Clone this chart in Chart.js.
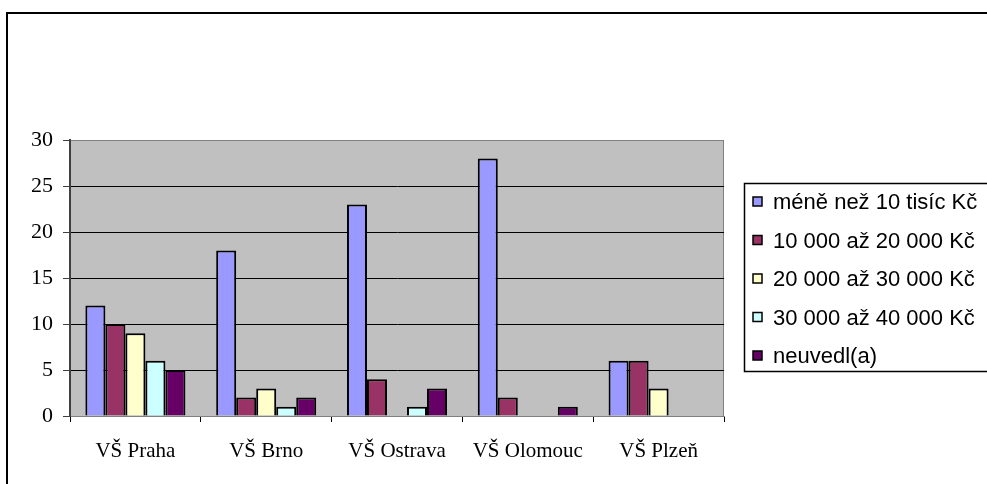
<!DOCTYPE html>
<html>
<head>
<meta charset="utf-8">
<script src="https://cdn.jsdelivr.net/npm/chart.js@4.4.0/dist/chart.umd.min.js"></script>
<style>
  html, body { margin: 0; padding: 0; background: #fff; overflow: hidden; }
  #wrap { width: 987px; height: 484px; }
</style>
</head>
<body>
<div id="wrap"><canvas id="c" width="987" height="484"></canvas></div>
<script>
// Výše příjmu podle vysoké školy
const categories = ['VŠ Praha', 'VŠ Brno', 'VŠ Ostrava', 'VŠ Olomouc', 'VŠ Plzeň'];
const seriesLabels = ['méně než 10 tisíc Kč', '10 000 až 20 000 Kč', '20 000 až 30 000 Kč', '30 000 až 40 000 Kč', 'neuvedl(a)'];
const lessThan10k = [12, 18, 23, 28, 6];
const from10to20k = [10, 2, 4, 2, 6];
const from20to30k = [9, 3, 0, 0, 3];
const from30to40k = [6, 1, 1, 0, 0];
const notStated = [5, 2, 3, 1, 0];
const yTicks = [0, 5, 10, 15, 20, 25, 30];

const colors = ['#9999FF', '#993366', '#FFFFCC', '#CCFFFF', '#660066'];
const values = [lessThan10k, from10to20k, from20to30k, from30to40k, notStated];

// plot background, outer frame and boxed legend (Excel look)
const excelLook = {
  id: 'excelLook',
  beforeDraw(chart) {
    const { ctx, chartArea: a } = chart;
    ctx.save();
    ctx.fillStyle = '#fff';
    ctx.fillRect(0, 0, chart.width, chart.height);
    ctx.fillStyle = '#C0C0C0';
    ctx.fillRect(a.left, a.top, a.right - a.left, a.bottom - a.top);
    ctx.strokeStyle = '#808080';
    ctx.lineWidth = 1;
    ctx.strokeRect(a.left + 0.5, a.top + 0.5, a.right - a.left - 1, a.bottom - a.top);
    ctx.restore();
  },
  afterDraw(chart) {
    const { ctx } = chart;
    ctx.save();
    ctx.strokeStyle = '#000';
    ctx.lineWidth = 2;
    ctx.strokeRect(7, 13, 2000, 2000);
    // legend
    ctx.lineWidth = 1.5;
    ctx.strokeRect(744.5, 183.5, 400, 188);
    ctx.font = '22px "Liberation Sans", Arial, sans-serif';
    ctx.textBaseline = 'middle';
    chart.data.datasets.forEach((ds, i) => {
      const cy = 202 + i * 38.5;
      ctx.fillStyle = ds.backgroundColor;
      ctx.fillRect(753, cy - 5, 9, 9);
      ctx.lineWidth = 1.5;
      ctx.strokeStyle = '#000';
      ctx.strokeRect(753, cy - 5, 9, 9);
      ctx.fillStyle = '#000';
      ctx.fillText(ds.label, 773, cy + 1);
    });
    ctx.restore();
  }
};

new Chart(document.getElementById('c'), {
  type: 'bar',
  data: {
    labels: categories,
    datasets: seriesLabels.map((label, i) => ({
      label,
      data: values[i],
      backgroundColor: colors[i],
      borderColor: '#000',
      borderWidth: 2,
      borderSkipped: 'bottom',
      barPercentage: 1,
      categoryPercentage: 0.765,
    })),
  },
  options: {
    responsive: false,
    animation: false,
    layout: { padding: { left: 0, top: 140, right: 263, bottom: 0 } },
    plugins: { legend: { display: false }, tooltip: { enabled: false } },
    scales: {
      x: {
        offset: true,
        grid: { offset: true, drawOnChartArea: false, drawTicks: true, tickLength: 6, color: '#000' },
        border: { color: '#808080', width: 1 },
        ticks: { color: '#000', padding: 17, font: { family: '"Liberation Serif", "Times New Roman", serif', size: 21 } },
        afterFit(scale) { scale.height = 68; },
      },
      y: {
        min: 0,
        max: 30,
        afterBuildTicks(scale) { scale.ticks = yTicks.map(v => ({ value: v })); },
        grid: {
          color: ctx => (ctx.tick && (ctx.tick.value === 0 || ctx.tick.value === 30)) ? '#808080' : '#000',
          tickColor: '#404040',
          tickLength: 7,
        },
        border: { color: '#404040', width: 2 },
        ticks: { color: '#000', padding: 10, font: { family: '"Liberation Serif", "Times New Roman", serif', size: 22 } },
        afterFit(scale) { scale.width = 70; },
      },
    },
  },
  plugins: [excelLook],
});
</script>
</body>
</html>
